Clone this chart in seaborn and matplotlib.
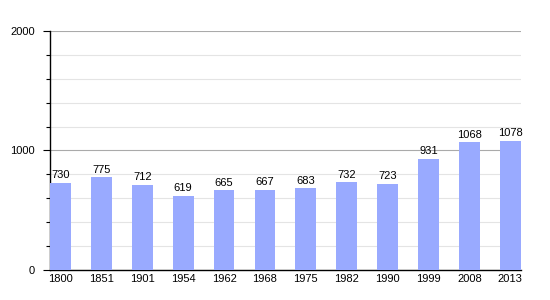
import matplotlib
matplotlib.use("Agg")
import matplotlib.pyplot as plt
import seaborn as sns
import pandas as pd
from matplotlib.ticker import MultipleLocator

years = ["1800", "1851", "1901", "1954", "1962", "1968", "1975", "1982", "1990", "1999", "2008", "2013"]
population = [730, 775, 712, 619, 665, 667, 683, 732, 723, 931, 1068, 1078]

sns.set_style("white")
plt.rcParams['font.family'] = ['Liberation Sans', 'DejaVu Sans']
plt.rcParams['text.color'] = 'black'
plt.rcParams['xtick.color'] = 'black'
plt.rcParams['ytick.color'] = 'black'

df = pd.DataFrame({"year": years, "pop": population})

fig = plt.figure(figsize=(5.5, 3), dpi=100)
ax = fig.add_axes([0.0909, 0.1, 0.856, 0.797])

sns.barplot(data=df, x="year", y="pop", color="#99aaff", saturation=1, width=0.51,
            ax=ax, zorder=3, linewidth=0)

ax.set_ylim(0, 2000)
ax.set_xlim(-0.255, len(years) - 1 + 0.255)
ax.yaxis.set_major_locator(MultipleLocator(1000))
ax.yaxis.set_minor_locator(MultipleLocator(200))
ax.grid(axis="y", which="major", color="#aaaaaa", linewidth=0.8, zorder=0)
ax.grid(axis="y", which="minor", color="#e4e4e4", linewidth=0.8, zorder=0)
ax.set_axisbelow(True)

for s in ["top", "right"]:
    ax.spines[s].set_visible(False)
for s in ["left", "bottom"]:
    ax.spines[s].set_color("black")
    ax.spines[s].set_linewidth(1.0)

ax.tick_params(axis="y", which="major", length=5, width=0.8, color="black", labelcolor="black",
               labelsize=8, pad=6, left=True)
ax.tick_params(axis="y", which="minor", length=3, width=0.8, color="black", left=True)
ax.tick_params(axis="x", length=0, labelsize=8, pad=3, labelcolor="black")
ax.set_xlabel("")
ax.set_ylabel("")

for c in ax.containers:
    ax.bar_label(c, labels=[str(v) for v in population], padding=2, fontsize=8, color="black")

fig.savefig("out.png", dpi=100)
